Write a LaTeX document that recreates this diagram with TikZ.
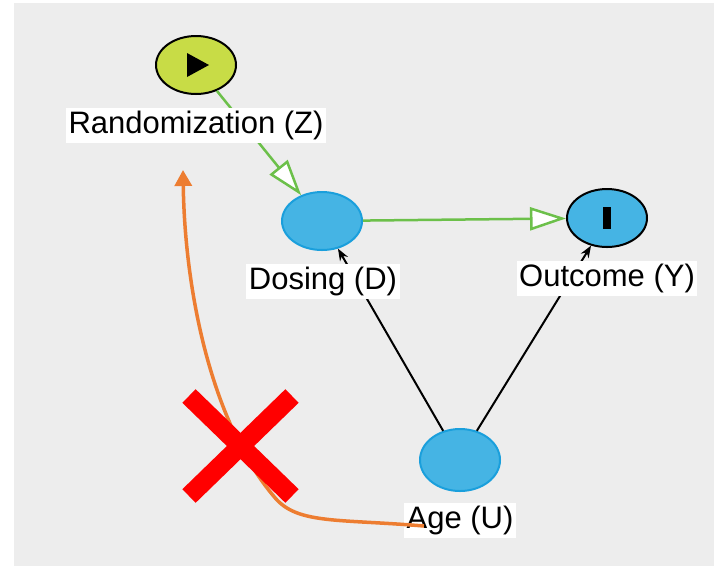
\documentclass[tikz,border=0pt]{standalone}
\usepackage{fontspec}
\setmainfont{Liberation Sans}
\usetikzlibrary{arrows.meta,shapes.geometric}
\definecolor{bgGray}{HTML}{EDEDED}
\definecolor{nodeBlue}{HTML}{45B4E4}
\definecolor{rimBlue}{HTML}{1A9FDC}
\definecolor{lime}{HTML}{C8DC46}
\definecolor{edgeGreen}{HTML}{6CC04A}
\definecolor{curveOrange}{HTML}{ED7D31}

\begin{document}
\begin{tikzpicture}[x=1pt,y=-1pt,
        font=\fontsize{31}{36}\selectfont,
        var/.style={ellipse, minimum width=80pt, minimum height=58pt, inner sep=0pt,
                    fill=nodeBlue, draw=rimBlue, line width=2pt},
        marked/.style={var, draw=black},
        tag/.style={fill=white, inner sep=2.5pt, text height=23pt, text depth=7pt},
        causal/.style={edgeGreen, line width=2.5pt,
                       -{Triangle[open, length=36pt, width=23pt, fill=white]}},
        confound/.style={black, line width=2pt, -{Stealth[length=12pt, width=9pt]}},
        backdoor/.style={curveOrange, line width=3.5pt, -{Triangle[length=16pt, width=17pt]}}]
        \useasboundingbox (0,0) rectangle (714,566);
        \fill[bgGray] (14,3) rectangle (714,566);

        % nodes
        \node[marked, fill=lime]         (Z) at (196,65)  {};
        \node[var]                       (D) at (322,221) {};
        \node[marked]                    (Y) at (607,218) {};
        \node[var, minimum height=62pt]  (U) at (460,460) {};

        % glyphs inside the marked nodes
        \fill (187,53) -- (209,65) -- (187,77) -- cycle;
        \fill (603,207) rectangle (611,229);

        % edges (labels go on top)
        \draw[causal] (Z) -- (D);
        \draw[causal] (D) -- (Y);
        \draw[confound] (U.120) -- (D.-60);
        \draw[confound] (U.60) -- (Y.-120);

        % labels
        \node[tag] (Zlab) at (196,125) {Randomization (Z)};
        \node[tag] (Dlab) at (323,281) {Dosing (D)};
        \node[tag] (Ylab) at (607,278) {Outcome (Y)};
        \node[tag] (Ulab) at (460,520) {Age (U)};

        % the crossed-out path
        \coordinate (tip) at (183,170);
        \draw[backdoor] (424,526) .. controls (340,519) and (300,524) .. (277,500)
                                   .. controls (215,430) and (185,300) .. (tip);
        \draw[red, line width=19pt] (189,396) -- (292,496);
        \draw[red, line width=19pt] (292,396) -- (189,496);
\end{tikzpicture}
\end{document}
